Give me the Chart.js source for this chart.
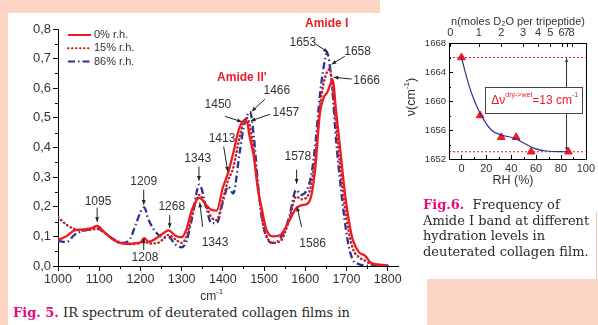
<!DOCTYPE html>
<html>
<head>
<meta charset="utf-8">
<script src="https://cdn.jsdelivr.net/npm/chart.js@4.4.1/dist/chart.umd.min.js"></script>
<style>
  html, body { margin: 0; padding: 0; background: #fff; }
  body { width: 598px; height: 325px; overflow: hidden; position: relative; }
  .pink { position: absolute; background: #fcd5c4; }
  #spectrum { position: absolute; left: 0; top: 0; }
  #shift { position: absolute; left: 390px; top: 0; }
  .cap { position: absolute; font-family: "DejaVu Serif", serif; font-size: 13px; color: #2b2b2b;
         line-height: 15.5px; white-space: nowrap; }
  .cap b { color: #e5097f; }
</style>
</head>
<body>
<div class="pink" style="left:0;top:0;width:380px;height:13px"></div>
<div class="pink" style="left:0;top:0;width:8px;height:325px"></div>
<div class="pink" style="left:427px;top:279px;width:171px;height:46px"></div>
<div style="position:absolute;left:596px;top:212px;width:1px;height:67px;background:#f0c8b8"></div>

<canvas id="spectrum" width="410" height="300"></canvas>
<canvas id="shift" width="208" height="200"></canvas>

<div class="cap" style="left:13px;top:305px"><b>Fig. 5.</b> IR spectrum of deuterated collagen films in</div>
<div class="cap" style="left:423px;top:197px"><b>Fig.6.</b>&nbsp; Frequency of<br>Amide I band at different<br>hydration levels in<br>deuterated collagen film.</div>

<script>
// --- Fig. 5 : IR spectra ---
var wavenumbers = [1000, 1020, 1040, 1060, 1080, 1095, 1110, 1130, 1150, 1170, 1190, 1200, 1209, 1220,
  1240, 1255, 1268, 1285, 1300, 1312, 1325, 1343, 1360, 1372, 1385, 1400, 1413, 1425, 1440, 1450,
  1458, 1466, 1475, 1485, 1495, 1505, 1520, 1540, 1560, 1578, 1590, 1605, 1615, 1625, 1635, 1645,
  1653, 1660, 1666, 1675, 1685, 1695, 1705, 1715, 1730, 1745, 1760, 1780, 1800];
var rh0 = [0.088, 0.100, 0.120, 0.123, 0.127, 0.135, 0.118, 0.093, 0.078, 0.075, 0.077, 0.080, 0.094, 0.082,
  0.095, 0.110, 0.120, 0.102, 0.097, 0.125, 0.190, 0.230, 0.205, 0.190, 0.187, 0.265, 0.315, 0.380, 0.465, 0.490,
  0.487, 0.430, 0.370, 0.260, 0.190, 0.125, 0.100, 0.105, 0.150, 0.195, 0.205, 0.210, 0.240, 0.340, 0.510, 0.570,
  0.585, 0.610, 0.630, 0.520, 0.390, 0.260, 0.160, 0.090, 0.047, 0.035, 0.010, 0.005, 0.002];
var rh15 = [0.165, 0.140, 0.125, 0.120, 0.122, 0.125, 0.115, 0.095, 0.080, 0.074, 0.075, 0.078, 0.090, 0.076,
  0.077, 0.090, 0.105, 0.090, 0.078, 0.100, 0.170, 0.240, 0.200, 0.165, 0.155, 0.225, 0.290, 0.330, 0.430, 0.485,
  0.500, 0.470, 0.390, 0.270, 0.160, 0.105, 0.078, 0.085, 0.150, 0.235, 0.225, 0.235, 0.280, 0.380, 0.530, 0.620,
  0.655, 0.665, 0.600, 0.470, 0.330, 0.210, 0.120, 0.060, 0.030, 0.018, 0.006, 0.002, 0.001];
var rh86 = [0.085, 0.080, 0.105, 0.118, 0.124, 0.128, 0.115, 0.095, 0.078, 0.083, 0.145, 0.182, 0.198, 0.155,
  0.110, 0.098, 0.098, 0.072, 0.063, 0.085, 0.160, 0.275, 0.195, 0.145, 0.145, 0.215, 0.268, 0.245, 0.375, 0.465,
  0.505, 0.520, 0.440, 0.280, 0.160, 0.100, 0.078, 0.095, 0.160, 0.257, 0.240, 0.260, 0.310, 0.420, 0.570, 0.675,
  0.720, 0.670, 0.590, 0.420, 0.280, 0.160, 0.070, 0.022, 0.006, 0.002, 0, 0, 0];
var wnTicks = [1000, 1100, 1200, 1300, 1400, 1500, 1600, 1700, 1800];
var absTicks = [0, 0.1, 0.2, 0.3, 0.4, 0.5, 0.6, 0.7, 0.8];
var seriesNames = ['0% r.h.', '15% r.h.', '86% r.h.'];

// --- Fig. 6 : Amide I frequency ---
var rhPoints = [0, 15, 32, 44, 56, 86];
var amideFreq = [1666, 1658, 1655, 1655, 1653, 1653];
var fitRH = [0, 6, 11, 16, 24, 32, 42, 50, 58, 68, 86];
var fitFreq = [1666, 1662.2, 1659.8, 1658, 1656, 1655.3, 1654.9, 1654.2, 1653.5, 1653.1, 1653];
var rhTicks = [0, 20, 40, 60, 80, 100];
var freqTicks = [1652, 1656, 1660, 1664, 1668];
var nTickRH = [-9, 14, 32, 49.5, 61.5, 71.5, 80.5, 84.5, 88.5];
var nTickLabels = ['0', '1', '2', '3', '4', '5', '6', '7', '8'];
var dryFreq = 1666, wetFreq = 1653;

var SANS = '"Liberation Sans", Arial, sans-serif';
var RED = '#ed1c24', DRED = '#b8232c', BLUE = '#2e3192';

function pts(xs, ys) { return xs.map(function (x, i) { return { x: x, y: ys[i] }; }); }

function arrow(ctx, x1, y1, x2, y2, head) {
  ctx.beginPath(); ctx.moveTo(x1, y1); ctx.lineTo(x2, y2); ctx.stroke();
  var a = Math.atan2(y2 - y1, x2 - x1), h = head || 5;
  ctx.beginPath();
  ctx.moveTo(x2, y2);
  ctx.lineTo(x2 - h * Math.cos(a - 0.4), y2 - h * Math.sin(a - 0.4));
  ctx.lineTo(x2 - h * Math.cos(a + 0.4), y2 - h * Math.sin(a + 0.4));
  ctx.closePath(); ctx.fill();
}

// peak labels: text position and arrow (from -> to), in data units
var peakNotes = [
  { t: '1095', p: [1097, 0.217], a: [1095, 0.197, 1095, 0.149] },
  { t: '1209', p: [1208, 0.285], a: [1208, 0.258, 1208, 0.207] },
  { t: '1268', p: [1276, 0.200], a: [1271, 0.172, 1271, 0.129] },
  { t: '1208', p: [1211, 0.027], a: [1208, 0.054, 1208, 0.092] },
  { t: '1343', p: [1339, 0.363], a: [1342, 0.336, 1342, 0.288] },
  { t: '1343', p: [1381, 0.078], a: [1351, 0.132, 1344, 0.214] },
  { t: '1413', p: [1398, 0.430], a: [1402, 0.403, 1412, 0.319] },
  { t: '1450', p: [1388, 0.546], a: [1405, 0.505, 1446, 0.487] },
  { t: '1466', p: [1531, 0.593], a: [1502, 0.563, 1470, 0.522] },
  { t: '1457', p: [1553, 0.519], a: [1514, 0.512, 1468, 0.490] },
  { t: '1578', p: [1582, 0.369], a: [1579, 0.325, 1579, 0.278] },
  { t: '1586', p: [1618, 0.075], a: [1591, 0.132, 1580, 0.200] },
  { t: '1653', p: [1594, 0.753], a: [1625, 0.749, 1655, 0.722] },
  { t: '1658', p: [1727, 0.725], a: [1696, 0.708, 1664, 0.681] },
  { t: '1666', p: [1749, 0.627], a: [1713, 0.631, 1669, 0.637] }
];

var spectrumExtras = {
  id: 'spectrumExtras',
  afterDraw: function (chart) {
    var ctx = chart.ctx, a = chart.chartArea, x = chart.scales.x, y = chart.scales.y;
    ctx.save();
    // minor ticks
    ctx.strokeStyle = '#000'; ctx.lineWidth = 1;
    ctx.beginPath();
    for (var v = 1050; v < 1825; v += 100) {
      var px = Math.round(x.getPixelForValue(v)) + 0.5;
      ctx.moveTo(px, a.bottom); ctx.lineTo(px, a.bottom + 3);
    }
    for (var w = 0.05; w < 0.8; w += 0.1) {
      var py = Math.round(y.getPixelForValue(w)) + 0.5;
      ctx.moveTo(a.left, py); ctx.lineTo(a.left - 3, py);
    }
    ctx.stroke();

    // legend
    var styles = [
      { c: RED, d: [], cap: 'butt' },
      { c: DRED, d: [0.5, 3.5], cap: 'round' },
      { c: BLUE, d: [7, 3, 1.5, 3], cap: 'butt' }
    ];
    ctx.font = '11px ' + SANS; ctx.textBaseline = 'middle'; ctx.textAlign = 'left';
    styles.forEach(function (s, i) {
      var ly = 35 + i * 13.3;
      ctx.strokeStyle = s.c; ctx.lineWidth = 2; ctx.setLineDash(s.d); ctx.lineCap = s.cap;
      ctx.beginPath(); ctx.moveTo(68, ly); ctx.lineTo(91, ly); ctx.stroke();
      ctx.fillStyle = '#333'; ctx.fillText(seriesNames[i], 94, ly);
    });
    ctx.setLineDash([]); ctx.lineCap = 'butt';

    // peak labels
    ctx.font = '12px ' + SANS; ctx.textAlign = 'center';
    ctx.strokeStyle = '#222'; ctx.fillStyle = '#222'; ctx.lineWidth = 1;
    peakNotes.forEach(function (n) {
      ctx.fillStyle = '#333';
      ctx.fillText(n.t, x.getPixelForValue(n.p[0]), y.getPixelForValue(n.p[1]));
      ctx.fillStyle = '#222';
      arrow(ctx, x.getPixelForValue(n.a[0]), y.getPixelForValue(n.a[1]),
        x.getPixelForValue(n.a[2]), y.getPixelForValue(n.a[3]), 5);
    });

    ctx.font = 'bold 12px ' + SANS; ctx.fillStyle = RED;
    ctx.fillText("Amide II'", x.getPixelForValue(1446), y.getPixelForValue(0.634));
    ctx.fillText('Amide I', x.getPixelForValue(1652), y.getPixelForValue(0.817));

    // axis title cm-1
    ctx.fillStyle = '#333'; ctx.textAlign = 'left';
    ctx.font = '12px ' + SANS;
    var tx = x.getPixelForValue(1345), ty = 297;
    ctx.fillText('cm', tx, ty);
    var cw = ctx.measureText('cm').width;
    ctx.font = '8px ' + SANS;
    ctx.fillText('-1', tx + cw, ty - 5);
    ctx.restore();
  }
};

new Chart(document.getElementById('spectrum'), {
  type: 'line',
  data: {
    datasets: [
      { label: seriesNames[0], data: pts(wavenumbers, rh0), borderColor: RED, borderWidth: 2.3 },
      { label: seriesNames[1], data: pts(wavenumbers, rh15), borderColor: DRED, borderWidth: 2.4,
        borderDash: [0.5, 3.5], borderCapStyle: 'round' },
      { label: seriesNames[2], data: pts(wavenumbers, rh86), borderColor: BLUE, borderWidth: 2.3,
        borderDash: [7, 3, 1.5, 3] }
    ]
  },
  options: {
    responsive: false,
    animation: false,
    layout: { padding: { left: 0, top: 29, right: 12, bottom: 0 } },
    elements: {
      point: { radius: 0 },
      line: { cubicInterpolationMode: 'monotone', fill: false }
    },
    plugins: { legend: { display: false }, tooltip: { enabled: false } },
    scales: {
      x: {
        type: 'linear', min: 1000, max: 1825,
        afterBuildTicks: function (s) { s.ticks = wnTicks.map(function (v) { return { value: v }; }); },
        afterFit: function (s) { s.height = 34; },
        grid: { drawOnChartArea: false, tickLength: 5, tickColor: '#000' },
        border: { color: '#000', width: 1 },
        ticks: { color: '#333', font: { family: SANS, size: 12.5 }, padding: 1, maxRotation: 0,
                 autoSkip: false, callback: function (v) { return String(v); } }
      },
      y: {
        min: 0, max: 0.8,
        afterBuildTicks: function (s) { s.ticks = absTicks.map(function (v) { return { value: v }; }); },
        afterFit: function (s) { s.width = 58; },
        grid: { drawOnChartArea: false, tickLength: 5, tickColor: '#000' },
        border: { color: '#000', width: 1 },
        ticks: { color: '#333', font: { family: SANS, size: 13 }, padding: 2,
                 callback: function (v) { return v.toFixed(1).replace('.', ','); } }
      }
    }
  },
  plugins: [spectrumExtras]
});

// --- Fig. 6 chart ---
var shiftExtras = {
  id: 'shiftExtras',
  beforeDatasetsDraw: function (chart) {
    var ctx = chart.ctx, x = chart.scales.x, y = chart.scales.y;
    ctx.save();
    // double arrow dry -> wet
    ctx.strokeStyle = '#333'; ctx.fillStyle = '#333'; ctx.lineWidth = 1;
    var ax = x.getPixelForValue(84.5);
    arrow(ctx, ax, y.getPixelForValue(1659), ax, y.getPixelForValue(dryFreq - 0.1), 4);
    arrow(ctx, ax, y.getPixelForValue(1659), ax, y.getPixelForValue(wetFreq + 0.1), 4);
    // box
    var bx = x.getPixelForValue(19.2), by = y.getPixelForValue(1661.9);
    var bw = x.getPixelForValue(97) - bx, bh = y.getPixelForValue(1658.3) - by;
    ctx.fillStyle = '#fff'; ctx.fillRect(bx, by, bw, bh);
    ctx.strokeStyle = '#444'; ctx.strokeRect(Math.round(bx) + 0.5, Math.round(by) + 0.5, Math.round(bw), Math.round(bh));
    // text
    ctx.fillStyle = RED; ctx.textBaseline = 'alphabetic'; ctx.textAlign = 'left';
    var tx = x.getPixelForValue(24), ty = by + 17;
    ctx.font = '12px ' + SANS; ctx.fillText('\u0394\u03bd', tx, ty); tx += ctx.measureText('\u0394\u03bd').width;
    ctx.font = '7px ' + SANS; ctx.fillText('dry->wet', tx, ty - 7); tx += ctx.measureText('dry->wet').width;
    ctx.font = '12px ' + SANS; ctx.fillText('=13 cm', tx, ty); tx += ctx.measureText('=13 cm').width;
    ctx.font = '7px ' + SANS; ctx.fillText('-1', tx, ty - 7);
    ctx.restore();
  },
  afterDraw: function (chart) {
    var ctx = chart.ctx, a = chart.chartArea, x = chart.scales.x, y = chart.scales.y, x2 = chart.scales.x2;
    ctx.save();
    ctx.strokeStyle = '#000'; ctx.lineWidth = 1;
    ctx.strokeRect(Math.round(a.left) + 0.5, Math.round(a.top) + 0.5, Math.round(a.right - a.left), Math.round(a.bottom - a.top));
    ctx.beginPath();
    rhTicks.forEach(function (v) {
      var px = Math.round(x.getPixelForValue(v)) + 0.5;
      ctx.moveTo(px, a.bottom); ctx.lineTo(px, a.bottom - 4);
    });
    [-10, 10, 30, 50, 70, 90].forEach(function (v) {
      var px = Math.round(x.getPixelForValue(v)) + 0.5;
      ctx.moveTo(px, a.bottom); ctx.lineTo(px, a.bottom - 2);
    });
    nTickRH.forEach(function (v) {
      var px = Math.round(x2.getPixelForValue(v)) + 0.5;
      ctx.moveTo(px, a.top); ctx.lineTo(px, a.top + 4);
    });
    freqTicks.forEach(function (v) {
      var py = Math.round(y.getPixelForValue(v)) + 0.5;
      ctx.moveTo(a.left, py); ctx.lineTo(a.left + 4, py);
    });
    [1654, 1658, 1662, 1666].forEach(function (v) {
      var py = Math.round(y.getPixelForValue(v)) + 0.5;
      ctx.moveTo(a.left, py); ctx.lineTo(a.left + 2, py);
    });
    ctx.stroke();

    // titles
    ctx.fillStyle = '#333'; ctx.textBaseline = 'middle'; ctx.textAlign = 'center';
    ctx.font = '12.5px ' + SANS;
    ctx.fillText('RH (%)', 123, 181);
    ctx.font = '11px ' + SANS;
    ctx.fillText('n(moles D\u2082O per tripeptide)', 128, 22);
    ctx.translate(22, 97); ctx.rotate(-Math.PI / 2);
    ctx.textAlign = 'left';
    var t1 = '\u03bd(cm', t2 = '-1', t3 = ')';
    ctx.font = '12.5px ' + SANS; var w1 = ctx.measureText(t1).width, w3 = ctx.measureText(t3).width;
    ctx.font = '8px ' + SANS; var w2 = ctx.measureText(t2).width;
    var sx = -(w1 + w2 + w3) / 2;
    ctx.font = '12.5px ' + SANS; ctx.fillText(t1, sx, 0);
    ctx.font = '8px ' + SANS; ctx.fillText(t2, sx + w1, -5);
    ctx.font = '12.5px ' + SANS; ctx.fillText(t3, sx + w1 + w2, 0);
    ctx.restore();
  }
};

new Chart(document.getElementById('shift'), {
  type: 'line',
  data: {
    datasets: [
      { data: pts(fitRH, fitFreq), borderColor: BLUE, borderWidth: 1.2, tension: 0.4, pointRadius: 0 },
      { data: pts(rhPoints, amideFreq), showLine: false, pointStyle: 'triangle', pointRadius: 4.5,
        pointBackgroundColor: RED, pointBorderColor: RED, pointBorderWidth: 1 },
      { data: pts([-10, 100], [dryFreq, dryFreq]), borderColor: RED, borderWidth: 1, borderDash: [2, 2], pointRadius: 0 },
      { data: pts([-10, 100], [wetFreq, wetFreq]), borderColor: RED, borderWidth: 1, borderDash: [2, 2], pointRadius: 0 }
    ]
  },
  options: {
    responsive: false,
    animation: false,
    layout: { padding: { left: 0, top: 0, right: 6, bottom: 0 } },
    plugins: { legend: { display: false }, tooltip: { enabled: false } },
    scales: {
      x: {
        type: 'linear', min: -10, max: 100,
        afterBuildTicks: function (s) { s.ticks = rhTicks.map(function (v) { return { value: v }; }); },
        afterFit: function (s) { s.height = 41; },
        grid: { display: false, drawTicks: false },
        border: { display: false },
        ticks: { color: '#333', font: { family: SANS, size: 11 }, padding: 3, maxRotation: 0, autoSkip: false,
                 callback: function (v) { return String(v); } }
      },
      x2: {
        type: 'linear', position: 'top', min: -10, max: 100,
        afterBuildTicks: function (s) { s.ticks = nTickRH.map(function (v) { return { value: v }; }); },
        afterFit: function (s) { s.height = 43; },
        grid: { display: false, drawTicks: false },
        border: { display: false },
        ticks: { color: '#333', font: { family: SANS, size: 11 }, padding: 3, maxRotation: 0, autoSkip: false,
                 callback: function (v, i) { return nTickLabels[i]; } }
      },
      y: {
        min: 1652, max: 1668,
        afterBuildTicks: function (s) { s.ticks = freqTicks.map(function (v) { return { value: v }; }); },
        afterFit: function (s) { s.width = 59; },
        grid: { display: false, drawTicks: false },
        border: { display: false },
        ticks: { color: '#333', font: { family: SANS, size: 9.5 }, padding: 3,
                 callback: function (v) { return String(v); } }
      }
    }
  },
  plugins: [shiftExtras]
});
</script>
</body>
</html>
